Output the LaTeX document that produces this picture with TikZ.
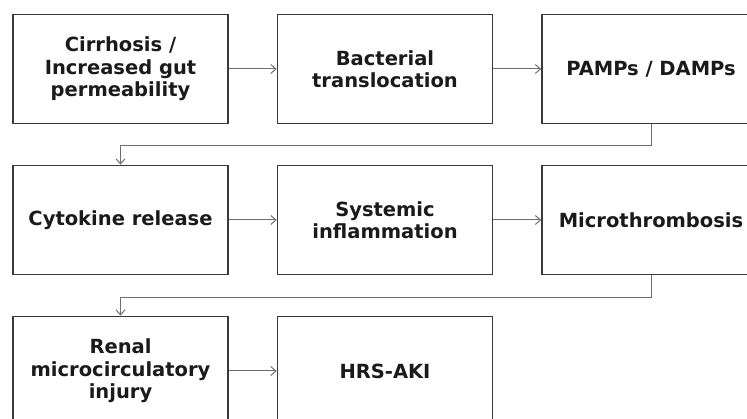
\documentclass[tikz,border=0pt]{standalone}
\usepackage{fontspec}
\setmainfont{DejaVu Sans}
\usepackage{tikz}
\usetikzlibrary{arrows.meta}

\definecolor{boxline}{HTML}{3A3A3A}
\definecolor{flowline}{HTML}{6E6E6E}
\definecolor{boxtext}{HTML}{1A1A1A}

\tikzset{
  box/.style={draw=boxline, line width=1.8pt, rectangle, minimum width=215pt,
    minimum height=109pt, align=center, text=boxtext,
    font=\bfseries\fontsize{19.5}{22.5}\selectfont},
  flow/.style={draw=flowline, line width=1pt, -{Straight Barb[length=5pt,width=9pt]}}
}

\begin{document}
\begin{tikzpicture}[x=1pt,y=-1pt]
\useasboundingbox (0,0) rectangle (747,419);
\clip (0,0) rectangle (747,419);
\node[box] (cirrhosis) at (120.5,69){Cirrhosis /\\Increased gut\\permeability};
\node[box] (bacteria) at (385,69){Bacterial\\translocation};
\node[box, minimum width=218pt] (pamps) at (651,69){PAMPs / DAMPs};
\node[box] (cytokine) at (120.5,220){Cytokine release};
\node[box] (inflam) at (385,220){Systemic\\inflammation};
\node[box, minimum width=218pt] (microthr) at (651,220){Microthrombosis};
\node[box] (renal) at (120.5,371){Renal\\microcirculatory\\injury};
\node[box] (hrs) at (385,371){HRS-AKI};
\foreach \from/\to in
{cirrhosis/bacteria,bacteria/pamps,cytokine/inflam,inflam/microthr,renal/hrs}
\draw[flow] (\from) -- (\to);
\draw[flow] (pamps.south) -- ++(0,21) -| (cytokine.north);
\draw[flow] (microthr.south) -- ++(0,22) -| (renal.north);
\end{tikzpicture}
\end{document}
